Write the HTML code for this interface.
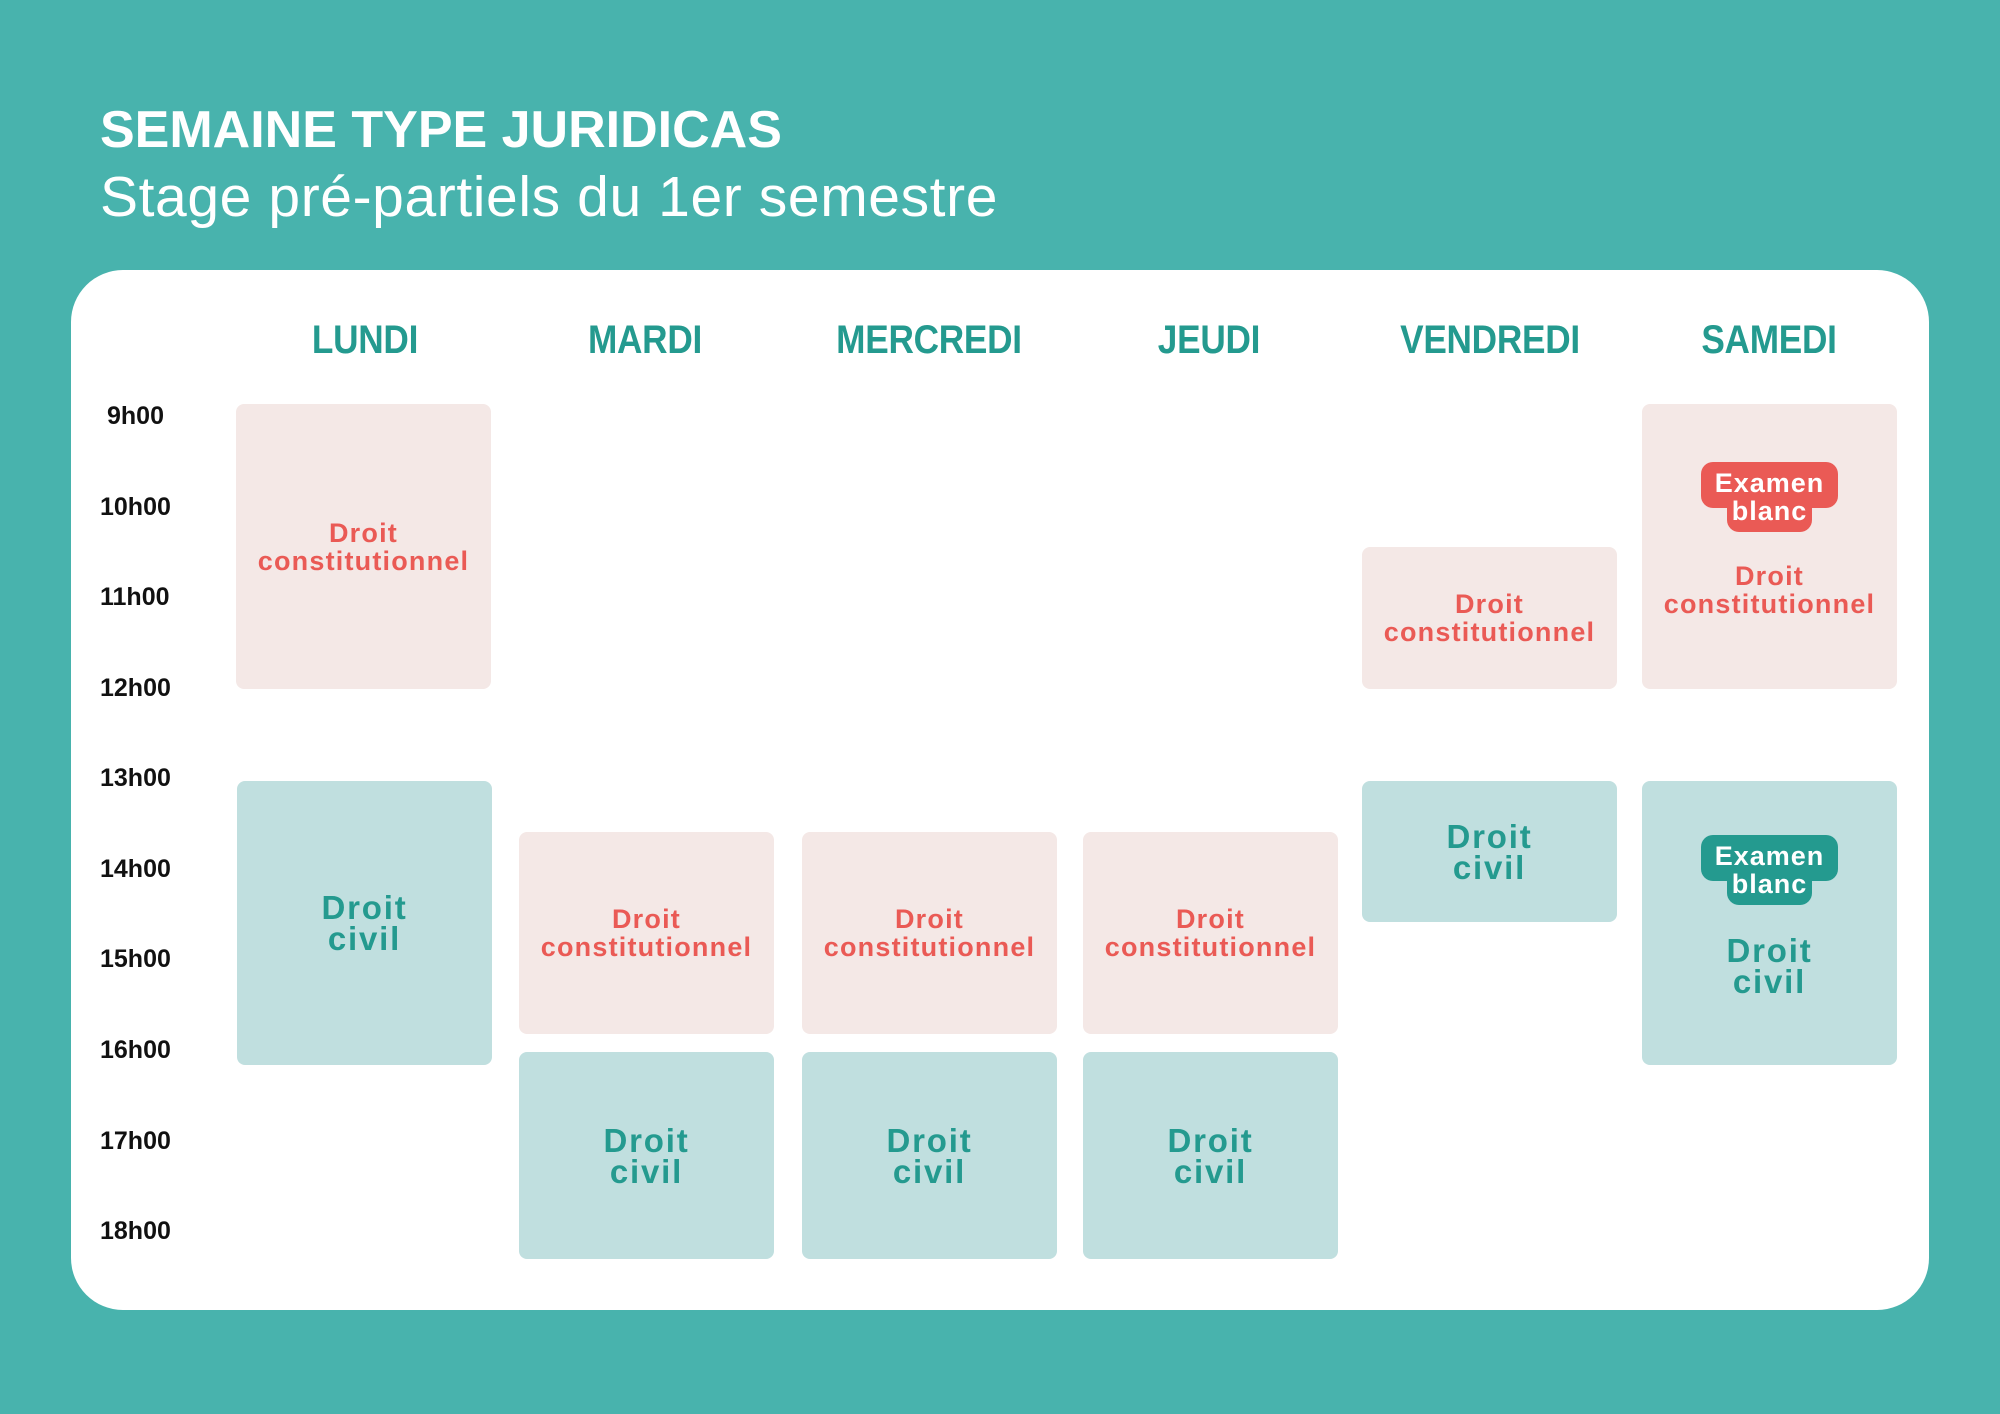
<!DOCTYPE html>
<html><head><meta charset="utf-8"><style>
*{margin:0;padding:0;box-sizing:border-box}
body{width:2000px;height:1414px;background:#48b3ad;position:relative;overflow:hidden;font-family:"Liberation Sans",sans-serif}
.abs{position:absolute}
#card{left:71px;top:270px;width:1858px;height:1040px;background:#fff;border-radius:52px}
h1{position:absolute;left:100px;top:100px;font-size:52px;font-weight:bold;color:#fff;letter-spacing:0px}
h2{position:absolute;left:100px;top:164px;font-size:57px;font-weight:normal;color:#fff;letter-spacing:0.6px}
.day{position:absolute;top:318px;width:300px;margin-left:-150px;text-align:center;font-size:40px;font-weight:bold;color:#249a8f;transform:scaleX(0.88);letter-spacing:-0.3px}
.t{position:absolute;left:100px;font-size:25px;font-weight:bold;color:#111;margin-top:-15px}
.b{position:absolute;border-radius:8px;display:flex;flex-direction:column;align-items:center;justify-content:center;text-align:center;font-weight:bold}
.p{background:#f4e8e6;color:#ea5a55;font-size:27px;line-height:28px;letter-spacing:1.2px}
.c{background:#c0dfdf;color:#249a8f;font-size:33px;line-height:31px;letter-spacing:1.8px}
.badge{position:relative;width:137px;height:70px;margin-bottom:30px;margin-top:-14px}
.badge .a,.badge .bb{position:absolute;border-radius:12px}
.badge .a{left:0;top:0;width:137px;height:46px}
.badge .bb{left:26px;top:20px;width:85px;height:50px}
.badge span{position:absolute;left:0;width:137px;text-align:center;color:#fff;font-size:27px;letter-spacing:1px;line-height:28px}
</style></head><body>
<h1>SEMAINE TYPE JURIDICAS</h1>
<h2>Stage pré-partiels du 1er semestre</h2>
<div id="card" class="abs"></div>
<div class="day" style="left:365px">LUNDI</div>
<div class="day" style="left:645px">MARDI</div>
<div class="day" style="left:929px">MERCREDI</div>
<div class="day" style="left:1209px">JEUDI</div>
<div class="day" style="left:1490px">VENDREDI</div>
<div class="day" style="left:1769px">SAMEDI</div>
<div class="t" style="top:417px;left:107px">9h00</div>
<div class="t" style="top:508px">10h00</div>
<div class="t" style="top:598px">11h00</div>
<div class="t" style="top:689px">12h00</div>
<div class="t" style="top:779px">13h00</div>
<div class="t" style="top:870px">14h00</div>
<div class="t" style="top:960px">15h00</div>
<div class="t" style="top:1051px">16h00</div>
<div class="t" style="top:1142px">17h00</div>
<div class="t" style="top:1232px">18h00</div>

<div class="b p" style="left:236px;top:404px;width:255px;height:285px">Droit<br>constitutionnel</div>
<div class="b c" style="left:237px;top:781px;width:255px;height:284px">Droit<br>civil</div>

<div class="b p" style="left:519px;top:832px;width:255px;height:202px">Droit<br>constitutionnel</div>
<div class="b c" style="left:519px;top:1052px;width:255px;height:207px">Droit<br>civil</div>
<div class="b p" style="left:802px;top:832px;width:255px;height:202px">Droit<br>constitutionnel</div>
<div class="b c" style="left:802px;top:1052px;width:255px;height:207px">Droit<br>civil</div>
<div class="b p" style="left:1083px;top:832px;width:255px;height:202px">Droit<br>constitutionnel</div>
<div class="b c" style="left:1083px;top:1052px;width:255px;height:207px">Droit<br>civil</div>

<div class="b p" style="left:1362px;top:547px;width:255px;height:142px">Droit<br>constitutionnel</div>
<div class="b c" style="left:1362px;top:781px;width:255px;height:141px">Droit<br>civil</div>

<div class="b p" style="left:1642px;top:404px;width:255px;height:285px">
<div class="badge"><div class="a" style="background:#ea5a55"></div><div class="bb" style="background:#ea5a55"></div><span style="top:7px">Examen</span><span style="top:35px">blanc</span></div>
Droit<br>constitutionnel</div>
<div class="b c" style="left:1642px;top:781px;width:255px;height:284px">
<div class="badge"><div class="a" style="background:#249a8f"></div><div class="bb" style="background:#249a8f"></div><span style="top:7px">Examen</span><span style="top:35px">blanc</span></div>
Droit<br>civil</div>
</body></html>
